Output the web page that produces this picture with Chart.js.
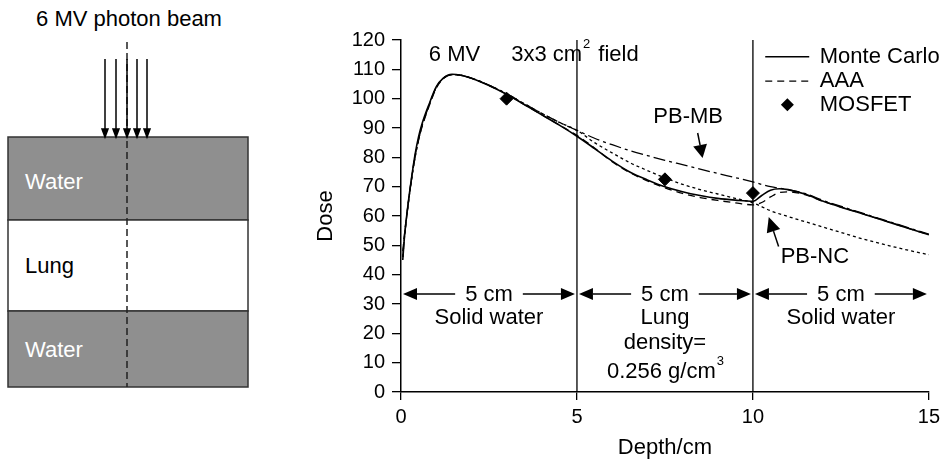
<!DOCTYPE html>
<html>
<head>
<meta charset="utf-8">
<script src="https://cdn.jsdelivr.net/npm/chart.js@4"></script>
<style>
  html, body { margin: 0; padding: 0; background: #fff; }
  body { width: 945px; height: 461px; position: relative; overflow: hidden; font-family: "Liberation Sans", Arial, sans-serif; }
  #diagram { position: absolute; left: 0; top: 0; }
  #doseChart { position: absolute; left: 290px; top: 0; }
</style>
</head>
<body>
<!-- phantom sketch on the left -->
<svg id="diagram" width="290" height="461" xmlns="http://www.w3.org/2000/svg">
  <text x="129" y="26" text-anchor="middle" font-family="Liberation Sans, Arial, sans-serif" font-size="22" fill="#000">6 MV photon beam</text>
  <rect x="8" y="137" width="240" height="83" fill="#8f8f8f" stroke="#333" stroke-width="1.5"/>
  <rect x="8" y="220" width="240" height="91" fill="#fff" stroke="#333" stroke-width="1.5"/>
  <rect x="8" y="311" width="240" height="76" fill="#8f8f8f" stroke="#333" stroke-width="1.5"/>
  <text x="25" y="189" font-family="Liberation Sans, Arial, sans-serif" font-size="22" fill="#fff">Water</text>
  <text x="25" y="273" font-family="Liberation Sans, Arial, sans-serif" font-size="22" fill="#000">Lung</text>
  <text x="25" y="357" font-family="Liberation Sans, Arial, sans-serif" font-size="22" fill="#fff">Water</text>
  <line x1="127" y1="42" x2="127" y2="387" stroke="#222" stroke-width="1.5" stroke-dasharray="7,4"/>
  <g stroke="#000" stroke-width="1.5" fill="#000">
    <line x1="105" y1="59" x2="105" y2="130"/><path d="M102,129 L108,129 L105,137 Z"/>
    <line x1="116" y1="59" x2="116" y2="130"/><path d="M113,129 L119,129 L116,137 Z"/>
    <line x1="127" y1="59" x2="127" y2="130"/><path d="M124,129 L130,129 L127,137 Z"/>
    <line x1="137" y1="59" x2="137" y2="130"/><path d="M134,129 L140,129 L137,137 Z"/>
    <line x1="147" y1="59" x2="147" y2="130"/><path d="M144,129 L150,129 L147,137 Z"/>
  </g>
</svg>

<canvas id="doseChart" width="655" height="461"></canvas>

<script>
// depth-dose curves, 6 MV, 3x3 cm2 field
const depthMC = [0.05, 0.1, 0.2, 0.3, 0.4, 0.5, 0.6, 0.8, 1.0, 1.2, 1.45, 1.7, 2.0, 2.5, 3.0, 3.5, 4.0, 4.5, 5.0, 5.5, 6.0, 6.5, 7.0, 7.5, 8.0, 8.5, 9.0, 9.5, 10.0, 10.25, 10.5, 10.75, 11.0, 11.5, 12.0, 12.5, 13.0, 13.5, 14.0, 14.5, 15.0];
const doseMC = [45, 53, 64, 73, 81, 87, 91.5, 98.2, 104, 107, 108.3, 108, 107, 104.5, 101.5, 98, 94.5, 91, 87.2, 83, 78.7, 75, 72.3, 70, 68.3, 67, 66, 65.4, 65, 67, 68.8, 69.3, 69, 67.4, 65, 63, 61.2, 59.3, 57.4, 55.5, 53.6];

const depthAAA = [0.05, 0.1, 0.2, 0.3, 0.4, 0.5, 0.6, 0.8, 1.0, 1.2, 1.45, 1.7, 2.0, 2.5, 3.0, 3.5, 4.0, 4.5, 5.0, 5.5, 6.0, 6.5, 7.0, 7.5, 8.0, 8.5, 9.0, 9.5, 10.0, 10.25, 10.5, 10.75, 11.0, 11.5, 12.0, 13.0, 14.0, 15.0];
const doseAAA = [48, 54, 64, 73, 80.5, 86, 90.5, 97.5, 103.5, 106.8, 108.2, 108, 107, 104.5, 101.5, 98, 94.5, 91, 87.5, 83.2, 78.5, 74.8, 72, 69.6, 67.7, 66.3, 65.3, 64.5, 63.8, 64.6, 66.5, 68, 68.2, 67.2, 65, 61.2, 57.4, 53.6];

const depthPBMB = [0.05, 0.1, 0.2, 0.3, 0.4, 0.5, 0.6, 0.8, 1.0, 1.2, 1.45, 1.7, 2.0, 2.5, 3.0, 3.5, 4.0, 4.5, 5.0, 5.5, 6.0, 6.5, 7.0, 7.5, 8.0, 8.5, 9.0, 9.5, 10.0, 10.5, 11.0, 11.5, 12.0, 13.0, 14.0, 15.0];
const dosePBMB = [46, 53, 63.5, 72.5, 80, 86, 90.8, 97.8, 103.8, 106.9, 108.2, 108, 107, 104.6, 101.7, 98.3, 95, 91.9, 89.2, 86.5, 84.3, 82.3, 80.6, 79, 77.5, 76, 74.5, 73.1, 71.6, 70, 69, 67.6, 65.3, 61.4, 57.6, 53.8];

const depthPBNC = [0.05, 0.1, 0.2, 0.3, 0.4, 0.5, 0.6, 0.8, 1.0, 1.2, 1.45, 1.7, 2.0, 2.5, 3.0, 3.5, 4.0, 4.5, 5.0, 5.5, 6.0, 6.5, 7.0, 7.5, 8.0, 8.5, 9.0, 9.5, 10.0, 10.5, 11.0, 11.5, 12.0, 12.5, 13.0, 13.5, 14.0, 14.5, 15.0];
const dosePBNC = [46, 53, 63.5, 72.5, 80, 86, 90.8, 97.8, 103.8, 106.9, 108.2, 108, 107, 104.6, 101.7, 98.3, 95, 91.9, 89.2, 85, 81.5, 78.2, 75.5, 73, 70.8, 69, 67.5, 66, 64.5, 61.8, 59.8, 58, 56.2, 54.4, 52.6, 51, 49.5, 48.1, 46.8];

const depthMOSFET = [3.0, 7.5, 10.0];
const doseMOSFET = [100, 72.5, 67.8];

// slab boundaries (cm) and axis ticks
const boundaries = [5, 10];
const xTicks = [0, 5, 10, 15];
const yTicks = [0, 10, 20, 30, 40, 50, 60, 70, 80, 90, 100, 110, 120];

const FONT = '"Liberation Sans", Arial, sans-serif';
const TXT = '22px ' + FONT;

function pairs(xs, ys) {
  return xs.map((x, i) => ({ x: x, y: ys[i] }));
}

function curve(label, xs, ys, dash, width) {
  return {
    label: label,
    data: pairs(xs, ys),
    borderColor: '#000',
    borderWidth: width,
    borderDash: dash,
    pointRadius: 0,
    fill: false,
    cubicInterpolationMode: 'monotone'
  };
}

// filled-head arrow from (x1,y1) to tip (x2,y2)
function arrow(ctx, x1, y1, x2, y2, len, half) {
  const a = Math.atan2(y2 - y1, x2 - x1);
  const bx = x2 - len * Math.cos(a), by = y2 - len * Math.sin(a);
  ctx.beginPath();
  ctx.moveTo(x1, y1);
  ctx.lineTo(bx, by);
  ctx.stroke();
  ctx.beginPath();
  ctx.moveTo(x2, y2);
  ctx.lineTo(bx + half * Math.sin(a), by - half * Math.cos(a));
  ctx.lineTo(bx - half * Math.sin(a), by + half * Math.cos(a));
  ctx.closePath();
  ctx.fill();
}

// text with a trailing superscript
function supText(ctx, base, sup, x, y, align) {
  ctx.font = TXT;
  const w = ctx.measureText(base).width;
  ctx.font = '13px ' + FONT;
  const ws = ctx.measureText(sup).width;
  let left = align === 'center' ? x - (w + ws) / 2 : x;
  ctx.textAlign = 'left';
  ctx.font = TXT;
  ctx.fillText(base, left, y);
  ctx.font = '13px ' + FONT;
  ctx.fillText(sup, left + w + 1, y - 11);
  ctx.font = TXT;
  return left + w + 1 + ws;
}

const annotations = {
  id: 'annotations',
  afterDatasetsDraw(chart) {
    const ctx = chart.ctx;
    const xs = chart.scales.x, ys = chart.scales.y;
    const px = v => xs.getPixelForValue(v);
    const py = v => ys.getPixelForValue(v);
    ctx.save();
    ctx.fillStyle = '#000';
    ctx.strokeStyle = '#000';
    ctx.lineWidth = 1.5;
    ctx.textBaseline = 'middle';
    ctx.font = TXT;

    // headers
    ctx.textAlign = 'center';
    ctx.fillText('6 MV', px(1.52), py(115));
    const endX = supText(ctx, '3x3 cm', '2', px(3.13), py(114.8), 'left');
    ctx.textAlign = 'left';
    ctx.fillText('field', endX + 8, py(114.8));

    // legend
    const lx1 = px(10.35), lx2 = px(11.6), tx = px(11.9);
    ctx.beginPath();
    ctx.moveTo(lx1, py(114.3)); ctx.lineTo(lx2, py(114.3));
    ctx.stroke();
    ctx.setLineDash([7, 5]);
    ctx.lineWidth = 1.3;
    ctx.beginPath();
    ctx.moveTo(lx1, py(106)); ctx.lineTo(lx2, py(106));
    ctx.stroke();
    ctx.setLineDash([]);
    ctx.lineWidth = 1.5;
    const dx = px(10.98), dy = py(97.9);
    ctx.beginPath();
    ctx.moveTo(dx, dy - 6.5); ctx.lineTo(dx + 6.5, dy); ctx.lineTo(dx, dy + 6.5); ctx.lineTo(dx - 6.5, dy);
    ctx.closePath(); ctx.fill();
    ctx.fillText('Monte Carlo', tx, py(114.3));
    ctx.fillText('AAA', tx, py(106));
    ctx.fillText('MOSFET', tx, py(97.9));

    // PB labels with arrows
    ctx.textAlign = 'center';
    ctx.fillText('PB-MB', px(8.16), py(93.7));
    arrow(ctx, px(8.43), py(88.3), px(8.57), py(79.8), 13, 7);
    ctx.fillText('PB-NC', px(11.76), py(46));
    arrow(ctx, px(10.73), py(49.6), px(10.45), py(59.7), 15, 7);

    // slab width arrows
    const yArr = py(33.4);
    const edges = [0, 5, 10, 15];
    for (let i = 0; i < 3; i++) {
      const a = px(edges[i]) + 2, b = px(edges[i + 1]) - 2;
      const mid = (a + b) / 2;
      const half = ctx.measureText('5 cm').width / 2 + 10;
      arrow(ctx, mid - half, yArr, a, yArr, 14, 6);
      arrow(ctx, mid + half, yArr, b, yArr, 14, 6);
      ctx.fillText('5 cm', mid, yArr + 1);
    }
    ctx.fillText('Solid water', px(2.5), py(25.2));
    ctx.fillText('Lung', px(7.5), py(25.2));
    ctx.fillText('density=', px(7.5), py(16.7));
    supText(ctx, '0.256 g/cm', '3', px(7.5), py(6.8), 'center');
    ctx.textAlign = 'center';
    ctx.fillText('Solid water', px(12.5), py(25.2));
    ctx.restore();
  }
};

const datasets = [
  curve('Monte Carlo', depthMC, doseMC, [], 1.6),
  curve('AAA', depthAAA, doseAAA, [7, 5], 1.3),
  curve('PB-MB', depthPBMB, dosePBMB, [12, 4, 3, 4], 1.3),
  curve('PB-NC', depthPBNC, dosePBNC, [3, 3], 1.3),
  {
    label: 'MOSFET',
    data: pairs(depthMOSFET, doseMOSFET),
    showLine: false,
    pointStyle: 'rectRot',
    pointRadius: 6.5,
    backgroundColor: '#000',
    borderColor: '#000'
  }
];
boundaries.forEach(b => {
  datasets.push({
    label: 'boundary ' + b,
    data: [{ x: b, y: yTicks[0] }, { x: b, y: yTicks[yTicks.length - 1] }],
    borderColor: '#000',
    borderWidth: 1.3,
    pointRadius: 0,
    fill: false
  });
});

new Chart(document.getElementById('doseChart'), {
  type: 'line',
  data: { datasets: datasets },
  options: {
    responsive: false,
    animation: false,
    devicePixelRatio: 1,
    layout: { padding: { left: 0, right: 12, top: 40, bottom: 0 } },
    plugins: { legend: { display: false }, tooltip: { enabled: false } },
    scales: {
      x: {
        type: 'linear',
        min: xTicks[0],
        max: xTicks[xTicks.length - 1],
        afterBuildTicks: s => { s.ticks = xTicks.map(v => ({ value: v })); },
        afterFit: s => { s.height = 69; },
        ticks: { color: '#000', font: { family: FONT, size: 20 }, padding: 5, maxRotation: 0 },
        grid: { drawOnChartArea: false, tickLength: 8, color: '#000', lineWidth: 1.3 },
        border: { color: '#000', width: 1.5 },
        title: { display: true, text: 'Depth/cm', color: '#000', font: { family: FONT, size: 22 }, padding: { top: 0, bottom: 0 } }
      },
      y: {
        min: yTicks[0],
        max: yTicks[yTicks.length - 1],
        afterBuildTicks: s => { s.ticks = yTicks.map(v => ({ value: v })); },
        afterFit: s => { s.width = 111; },
        ticks: { color: '#000', font: { family: FONT, size: 20 }, padding: 7 },
        grid: { drawOnChartArea: false, tickLength: 9, color: '#000', lineWidth: 1.3 },
        border: { color: '#000', width: 1.5 },
        title: { display: true, text: 'Dose', color: '#000', font: { family: FONT, size: 22 }, padding: { top: 23, bottom: 0 } }
      }
    }
  },
  plugins: [annotations]
});
</script>
</body>
</html>
